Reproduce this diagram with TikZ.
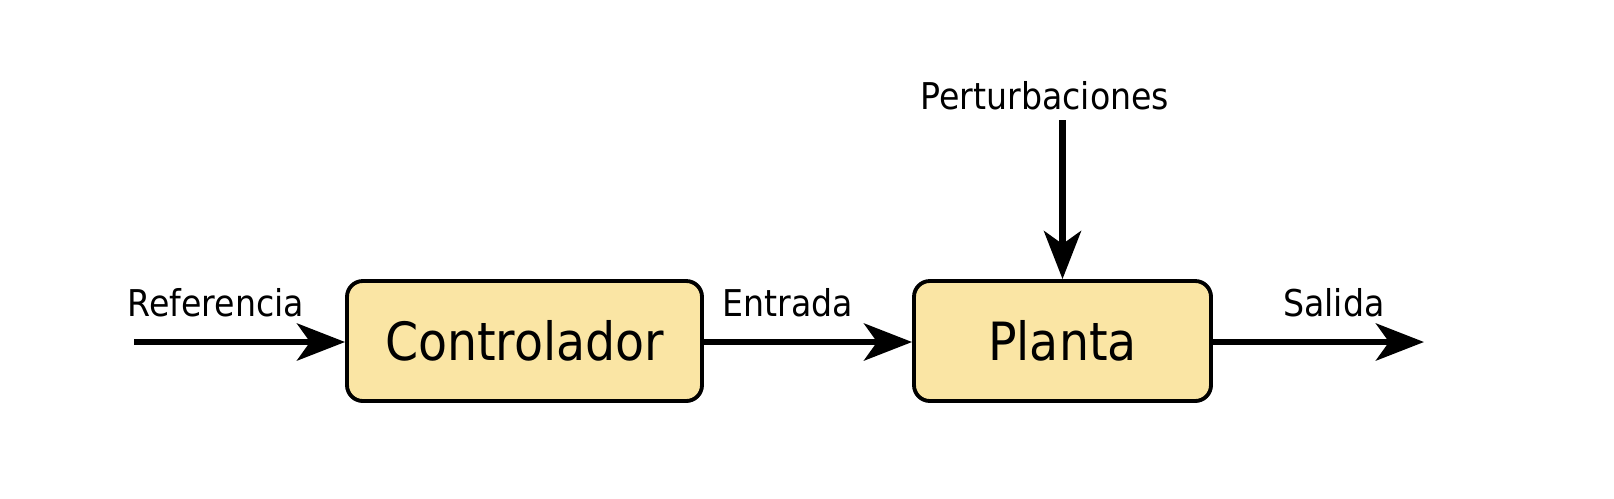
\documentclass[tikz,border=0pt]{standalone}
\usepackage{fontspec}
\setmainfont{DejaVu Sans Condensed}
\usetikzlibrary{arrows.meta,positioning}
\definecolor{boxfill}{RGB}{250,229,164}

\begin{document}
\begin{tikzpicture}[block/.style={draw,line width=1.1pt,rounded corners=4.5pt,fill=boxfill,minimum height=1.2cm,font=\fontsize{15}{18}\selectfont},
sig/.style={-{Stealth[length=4.8mm,width=3.7mm,inset=1.3mm]},line width=1.9pt},
lbl/.style={font=\fontsize{10.5}{12}\selectfont}]
\useasboundingbox (0,0) rectangle (16.14,4.98);
\node[block,minimum width=3.55cm] (ctrl) at (5.245,1.57) {Controlador};
\node[block,minimum width=2.97cm] (planta) at (10.625,1.57) {Planta};
\coordinate (in) at (1.34,1.56);
\coordinate (out) at (14.24,1.56);
\coordinate (pt) at (10.625,3.78);
\draw[sig] (in) -- (ctrl.west|-in);
\draw[sig] (ctrl.east|-in) -- (planta.west|-in);
\draw[sig] (planta.east|-in) -- (out);
\draw[sig] (pt) -- (planta.north);
\node[lbl] (lref) at (2.16,1.95) {Referencia};
\node[lbl] (lent) at (7.88,1.95) {Entrada};
\node[lbl] (lsal) at (13.34,1.95) {Salida};
\node[lbl] (lper) at (10.45,4.02) {Perturbaciones};
\end{tikzpicture}
\end{document}
